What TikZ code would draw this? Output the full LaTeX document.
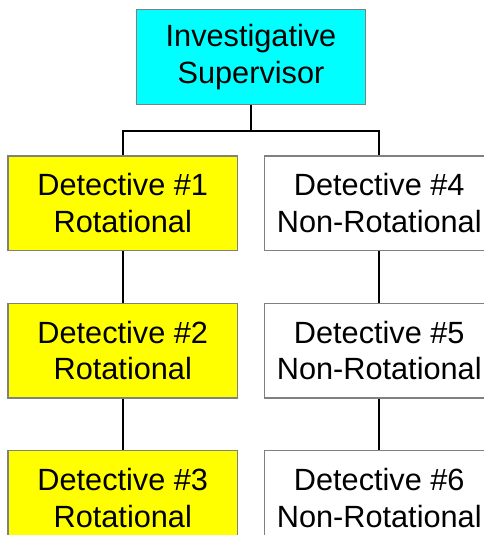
\documentclass[tikz,border=0pt]{standalone}
\usepackage{fontspec}
\setmainfont{Liberation Sans}
\usepackage{tikz}
\definecolor{supcyan}{RGB}{0,255,255}
\definecolor{rotyellow}{RGB}{255,255,0}
\definecolor{postgray}{RGB}{128,128,128}

\begin{document}
\begin{tikzpicture}[
   x=1pt,y=1pt,
   font=\fontsize{30.7}{36.5}\selectfont,
   every matrix/.style={ampersand replacement=\&,column sep=26pt,row sep=51.3pt,inner sep=0pt},
   post/.style={draw=postgray,line width=1.5pt,minimum width=229pt,minimum height=94.5pt,inner sep=0pt,align=center},
   boss/.style={post,fill=supcyan},
   rot/.style={post,fill=rotyellow},
   nonrot/.style={post,fill=white},
   link/.style={line width=2pt,black}]
\useasboundingbox (0,0) rectangle (484,-535);
\node[boss] (S) at (251,-57) {Investigative\\Supervisor};
\matrix (M) at (251,-155) [anchor=north] {
\node[rot] (D1) {Detective \#1\\Rotational}; \& \node[nonrot] (D4) {Detective \#4\\Non-Rotational};\\
\node[rot] (D2) {Detective \#2\\Rotational}; \& \node[nonrot] (D5) {Detective \#5\\Non-Rotational};\\
\node[rot] (D3) {Detective \#3\\Rotational}; \& \node[nonrot] (D6) {Detective \#6\\Non-Rotational};\\
};
\coordinate (J) at ([yshift=-26pt]S.south);
\draw[link] (S.south) -- (J);
\draw[link] (J) -| (D1.north);
\draw[link] (J) -| (D4.north);
\draw[link] (D1) -- (D2);
\draw[link] (D2) -- (D3);
\draw[link] (D4) -- (D5);
\draw[link] (D5) -- (D6);
\end{tikzpicture}
\end{document}
